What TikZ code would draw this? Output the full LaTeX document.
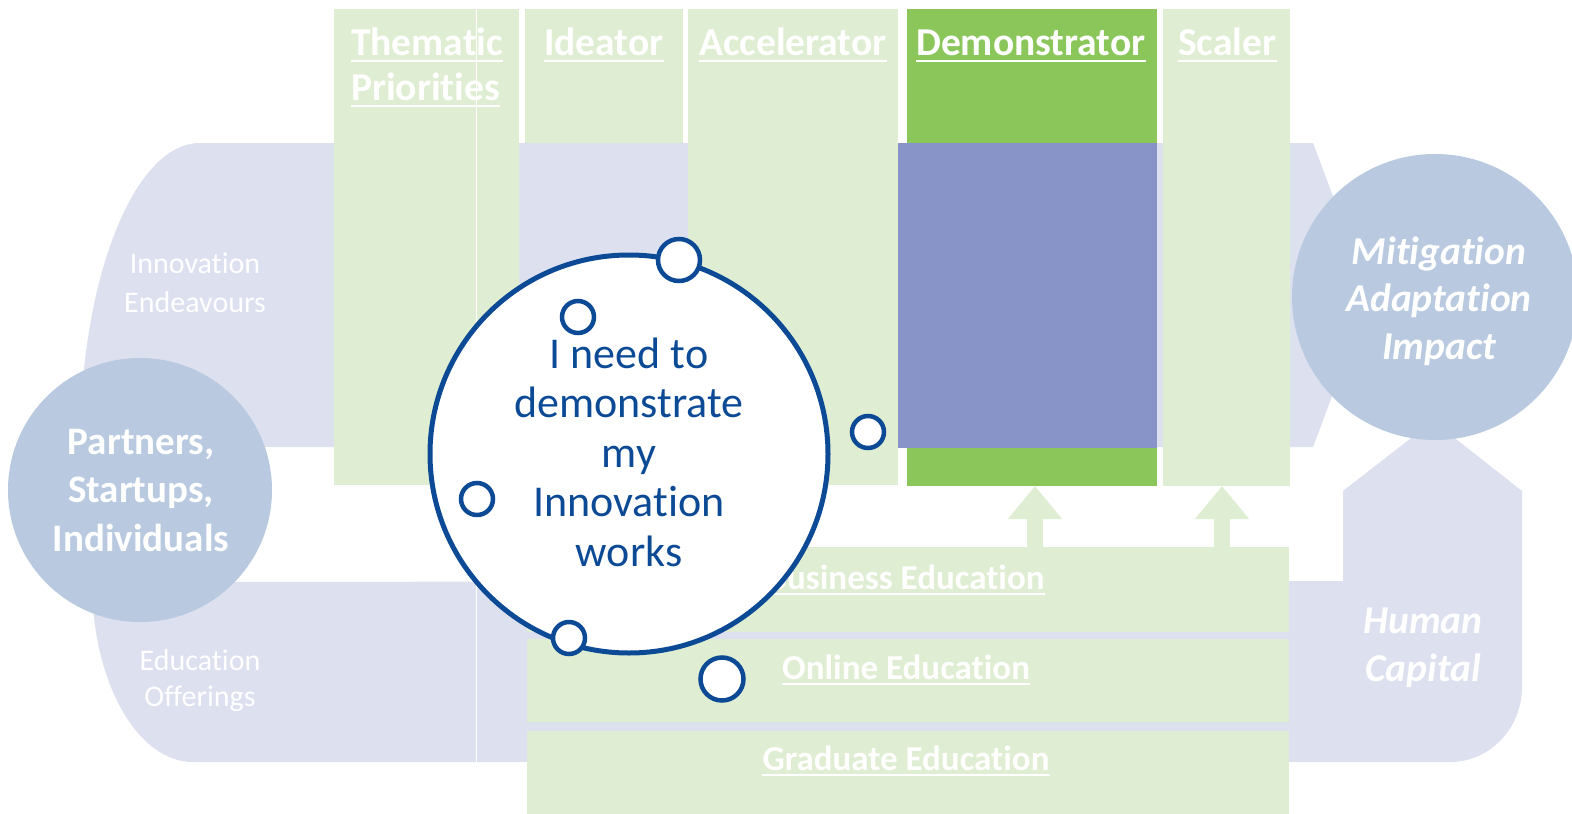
\documentclass[tikz,border=0pt]{standalone}
\usepackage{fontspec}
\setmainfont{Carlito}[Ligatures=NoCommon]
\usetikzlibrary{fit,arrows.meta}
\definecolor{lav}{RGB}{220,224,239}
\definecolor{lgreen}{RGB}{223,238,210}
\definecolor{dgreen}{RGB}{138,198,90}
\definecolor{purp}{RGB}{136,147,200}
\definecolor{sblue}{RGB}{184,201,224}
\definecolor{nblue}{RGB}{12,74,150}
\begin{document}
\begin{tikzpicture}[x=1pt,y=-1pt,
  box/.style={inner sep=0pt,outer sep=0pt,draw=none},
  lgbox/.style={box,fill=lgreen},
  hdr/.style={inner sep=0pt,anchor=base west,text=white,font=\bfseries\fontsize{39.5}{45}\selectfont},
  edu/.style={inner sep=0pt,anchor=base,text=white,font=\bfseries\fontsize{35}{40}\selectfont},
  ul/.style={white,line width=2pt},
  sidebold/.style={inner sep=0pt,align=center,text=white,font=\bfseries\fontsize{39}{48.5}\selectfont},
  sideit/.style={inner sep=0pt,align=center,text=white,font=\bfseries\itshape\fontsize{39.5}{47.5}\selectfont},
  lighttext/.style={inner sep=0pt,align=center,text=white,font=\fontsize{30}{39}\selectfont},
  circtext/.style={inner sep=0pt,align=center,text=nblue,font=\fontsize{44}{49.5}\selectfont},
  dot/.style={circle,draw=nblue,fill=white,line width=4.5pt,inner sep=0pt},
  uparr/.style={lgreen,line width=16pt,-{Triangle[length=33pt,width=52pt]}},
]
\useasboundingbox (0,0) rectangle (1572,814);
\fill[white] (0,0) rectangle (1572,814);

% lavender bands
\fill[lav] (80,447) .. controls (80,279) and (134,143) .. (200,143)
  -- (1313,143) -- (1370,295) -- (1313,447) -- cycle;
\fill[lav] (92,582) .. controls (92,681) and (137,762) .. (193,762)
  -- (1450,762) .. controls (1490,762) and (1522,728) .. (1522,687)
  -- (1522,491) -- (1433,421) -- (1343,491) -- (1343,581) -- cycle;

% columns
\node[lgbox, fit={(334,9) (519,485)}] (them) {};
\node[lgbox, fit={(525,9) (683,143)}] (idea) {};
\node[lgbox, fit={(688,9) (898,485)}] (acc) {};
\node[box, fill=dgreen, fit={(907,9) (1157,486)}] (demo) {};
\node[box, fill=purp, fit={(898,143) (1157,448)}] (demob) {};
\node[lgbox, fit={(1163,9) (1290,486)}] (scal) {};

% thin white separator
\draw[white, line width=1pt] (476,9) -- (476,762);

% column headers
\node[hdr] (h1) at (351,55) {Thematic};
\node[hdr] (h1b) at (351,100) {Priorities};
\node[hdr] (h2) at (544,55) {Ideator};
\node[hdr] (h3) at (699,55) {Accelerator};
\node[hdr] (h4) at (916,55) {Demonstrator};
\node[hdr] (h5) at (1178,55) {Scaler};
\foreach \n in {h1,h1b,h2,h3,h4,h5}
  \draw[ul] ([yshift=-6pt]\n.base west) -- ([yshift=-6pt]\n.base east);

% education bars
\node[lgbox, fit={(527,547) (1289,632)}] (biz) {};
\node[lgbox, fit={(527,639) (1289,722)}] (onl) {};
\node[lgbox, fit={(527,731) (1289,814)}] (grad) {};
\node[edu] (t1) at (906,589) {Business Education};
\node[edu] (t2) at (906,679) {Online Education};
\node[edu] (t3) at (906,770) {Graduate Education};
\foreach \n in {t1,t2,t3}
  \draw[ul] ([yshift=-5pt]\n.base west) -- ([yshift=-5pt]\n.base east);

% up arrows
\draw[uparr] (biz.north -| 1035,0) -- (demo.south -| 1035,0);
\draw[uparr] (biz.north -| 1222,0) -- (scal.south -| 1222,0);

% band labels
\node[lighttext] (ie) at (195,283) {Innovation\\Endeavours};
\node[lighttext, font=\fontsize{30}{36}\selectfont] (eo) at (200,681) {Education\\Offerings};
\node[sideit] (hc) at (1423,648) {Human\\Capital};

% side circles
\node[circle, fill=sblue, minimum size=264pt, inner sep=0pt] (psi) at (140,490) {};
\node[sidebold] (psit) at (141,490) {Partners,\\Startups,\\Individuals};
\node[circle, fill=sblue, minimum size=286pt, inner sep=0pt] (mai) at (1435,297) {};
\node[sideit] (mait) at (1439,301) {Mitigation\\Adaptation\\Impact};

% focus circle
\node[circle, draw=nblue, fill=white, line width=5pt, minimum size=398pt, inner sep=0pt] (focus) at (629,454) {};
\node[circtext] (focust) at (629,452) {I need to\\demonstrate\\my\\Innovation\\works};

% small dots
\node[dot, minimum size=42pt] (d1) at (679,260) {};
\node[dot, minimum size=32pt] (d2) at (578,317) {};
\node[dot, minimum size=32pt] (d3) at (868,432) {};
\node[dot, minimum size=32pt] (d4) at (477,499) {};
\node[dot, minimum size=32pt] (d5) at (569,638) {};
\node[dot, minimum size=43pt] (d6) at (722,679) {};
\end{tikzpicture}
\end{document}
